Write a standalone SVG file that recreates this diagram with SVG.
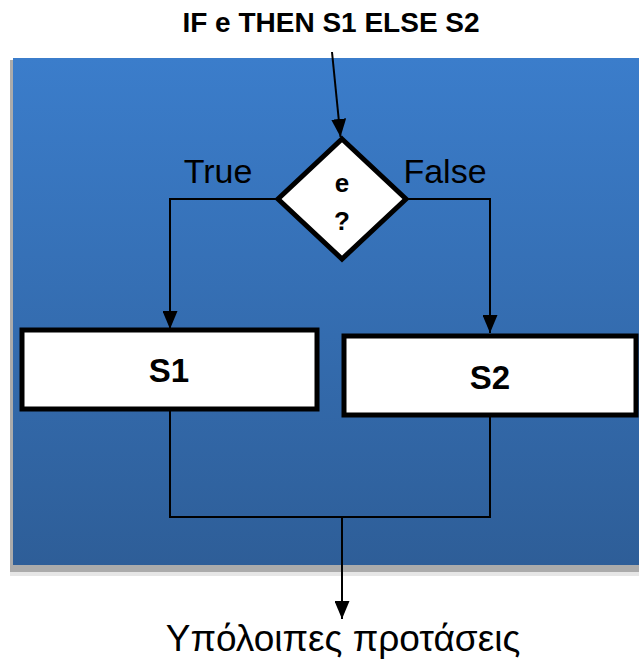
<svg xmlns="http://www.w3.org/2000/svg" width="639" height="660" viewBox="0 0 639 660">
<style>
.t{font-family:"Liberation Sans","Open Sans",sans-serif;fill:#000}
.b{font-weight:bold}
.ln{stroke:#000;stroke-width:2;fill:none}
.box{fill:#fff;stroke:#000;stroke-width:5}
</style>
<defs>
<linearGradient id="bg" x1="0" y1="0" x2="0" y2="1">
<stop offset="0" stop-color="#3b7dcb"/>
<stop offset="1" stop-color="#2e5e98"/>
</linearGradient>
<marker id="ah" viewBox="0 0 18 15" refX="18" refY="7.5" markerWidth="18" markerHeight="15" markerUnits="userSpaceOnUse" orient="auto">
<path d="M0,0 L18,7.5 L0,15 z" fill="#000"/>
</marker>
</defs>
<rect x="0" y="0" width="639" height="660" fill="#fff"/>
<rect x="10" y="60" width="629" height="515" fill="#ababab"/>
<rect x="10" y="572" width="629" height="4" fill="#e6e6e6"/>
<rect x="13" y="58" width="626" height="507" fill="url(#bg)"/>
<text class="t b" x="331" y="32" font-size="28" text-anchor="middle">IF e THEN S1 ELSE S2</text>
<g id="connectors">
<line class="ln" x1="332" y1="52" x2="340.5" y2="137" marker-end="url(#ah)"/>
<polyline class="ln" points="278,199 170,199 170,329" marker-end="url(#ah)"/>
<polyline class="ln" points="406,199 490,199 490,333" marker-end="url(#ah)"/>
<polyline class="ln" points="170,410 170,517 490,517 490,412"/>
<line class="ln" x1="342" y1="517" x2="342" y2="619" marker-end="url(#ah)"/>
</g>
<g id="decision">
<polygon class="box" points="342,139 406,199 342,259 278,199"/>
<text class="t b" x="342" y="192" font-size="26" text-anchor="middle">e</text>
<text class="t b" x="342" y="230" font-size="26" text-anchor="middle">?</text>
</g>
<text class="t" x="218" y="183" font-size="34" text-anchor="middle">True</text>
<text class="t" x="445" y="183" font-size="34" text-anchor="middle">False</text>
<g id="s1">
<rect class="box" x="22" y="330" width="295" height="79"/>
<text class="t b" x="169" y="382" font-size="33" text-anchor="middle">S1</text>
</g>
<g id="s2">
<rect class="box" x="344" y="336" width="292" height="79"/>
<text class="t b" x="490" y="389" font-size="33" text-anchor="middle">S2</text>
</g>
<g id="rest">
<text class="t" x="343" y="651" font-size="37" text-anchor="middle">Υπόλοιπες προτάσεις</text>
</g>
</svg>
